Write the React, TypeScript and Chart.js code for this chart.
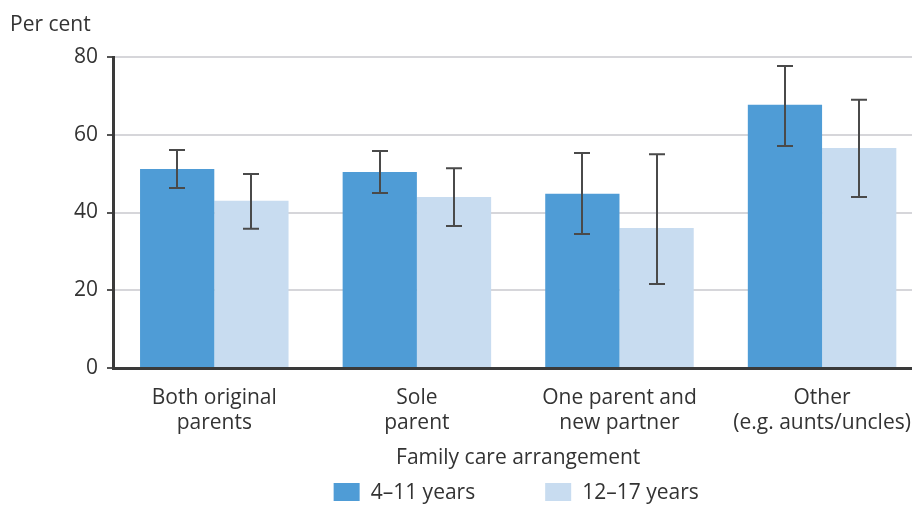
import React, { useEffect, useRef } from "react";
import { Chart, registerables } from "chart.js";

Chart.register(...registerables);

const categories: string[][] = [
  ["Both original", "parents"],
  ["Sole", "parent"],
  ["One parent and", "new partner"],
  ["Other", "(e.g. aunts/uncles)"],
];
const seriesLabels = ["4–11 years", "12–17 years"];
const young = [51.2, 50.4, 44.8, 67.7];
const youngLow = [46.3, 45.0, 34.5, 57.1];
const youngHigh = [56.1, 55.8, 55.3, 77.7];
const older = [43.0, 44.0, 36.0, 56.6];
const olderLow = [35.8, 36.5, 21.6, 44.0];
const olderHigh = [49.9, 51.4, 55.0, 69.0];
const yTicks = [0, 20, 40, 60, 80];

const FONT = "'Open Sans', 'Noto Sans', sans-serif";
const FS = 21;
const TEXT = "#333333";
const DARK = "#4f9cd6";
const LIGHT = "#c8dcf0";

const errorBarPlugin = {
  id: "errorBars",
  afterDatasetsDraw(chart: any) {
    const ctx = chart.ctx;
    const ys = chart.scales.y;
    const lows = [youngLow, olderLow];
    const highs = [youngHigh, olderHigh];
    chart.data.datasets.forEach((_ds: any, i: number) => {
      const meta = chart.getDatasetMeta(i);
      meta.data.forEach((bar: any, j: number) => {
        const x = Math.round(bar.x);
        const yl = ys.getPixelForValue(lows[i][j]);
        const yh = ys.getPixelForValue(highs[i][j]);
        ctx.save();
        ctx.strokeStyle = "#4a4a4a";
        ctx.lineWidth = 2;
        ctx.beginPath();
        ctx.moveTo(x, yl);
        ctx.lineTo(x, yh);
        ctx.moveTo(x - 8, yl);
        ctx.lineTo(x + 8, yl);
        ctx.moveTo(x - 8, yh);
        ctx.lineTo(x + 8, yh);
        ctx.stroke();
        ctx.restore();
      });
    });
  },
};

const legendPlugin = {
  id: "customLegend",
  afterDraw(chart: any) {
    const ctx = chart.ctx;
    const area = chart.chartArea;
    const cx = (area.left + area.right) / 2 - 2;
    const y = 492;
    const boxW = 26;
    const boxH = 18;
    const gap = 11;
    const itemGap = 70;
    ctx.save();
    ctx.font = `${FS}px ${FONT}`;
    const colors = chart.data.datasets.map((d: any) => d.backgroundColor);
    const widths = seriesLabels.map((t) => ctx.measureText(t).width);
    const total = widths.reduce((a, w) => a + boxW + gap + w, 0) + itemGap;
    let x = cx - total / 2;
    ctx.textBaseline = "middle";
    ctx.textAlign = "left";
    seriesLabels.forEach((t, i) => {
      ctx.fillStyle = colors[i];
      ctx.fillRect(x, y - boxH / 2, boxW, boxH);
      x += boxW + gap;
      ctx.fillStyle = TEXT;
      ctx.fillText(t, x, y + 1);
      x += widths[i] + itemGap;
    });
    ctx.restore();
  },
};

export default function App() {
  const ref = useRef<HTMLCanvasElement>(null);
  useEffect(() => {
    if (!ref.current) return;
    const chart = new Chart(ref.current, {
      type: "bar",
      data: {
        labels: categories,
        datasets: [
          {
            label: seriesLabels[0],
            data: young,
            backgroundColor: DARK,
            categoryPercentage: 0.733,
            barPercentage: 1.0,
          },
          {
            label: seriesLabels[1],
            data: older,
            backgroundColor: LIGHT,
            categoryPercentage: 0.733,
            barPercentage: 1.0,
          },
        ],
      },
      options: {
        responsive: false,
        animation: false,
        layout: { padding: { left: 10, right: 1, top: 0, bottom: 30.4 } },
        plugins: {
          legend: { display: false },
          tooltip: { enabled: false },
          title: {
            display: true,
            text: "Per cent",
            align: "start",
            color: TEXT,
            font: { family: FONT, size: FS, weight: "normal", lineHeight: 1.2 },
            padding: { top: 12.4, bottom: 19.4 },
          },
        },
        scales: {
          x: {
            grid: { display: false, drawTicks: false },
            border: { display: true, color: "#3a3a3a", width: 3 },
            ticks: {
              color: TEXT,
              font: { family: FONT, size: FS, lineHeight: 1.2 },
              padding: 17,
              maxRotation: 0,
              autoSkip: false,
            },
            title: {
              display: true,
              text: "Family care arrangement",
              color: TEXT,
              font: { family: FONT, size: FS, lineHeight: 1.2 },
              padding: { top: -7, bottom: 4 },
            },
          },
          y: {
            min: 0,
            max: 80,
            afterFit: (s: any) => {
              s.width = 103;
            },
            afterBuildTicks: (s: any) => {
              s.ticks = yTicks.map((v) => ({ value: v }));
            },
            grid: {
              color: (c: any) => (c.tick && c.tick.value === 0 ? "rgba(0,0,0,0)" : "#d6d6da"),
              lineWidth: 2,
              tickLength: 6,
              tickColor: "#555555",
            },
            border: { display: true, color: "#3a3a3a", width: 3 },
            ticks: {
              color: TEXT,
              font: { family: FONT, size: FS },
              padding: 9,
            },
          },
        },
      },
      plugins: [errorBarPlugin, legendPlugin],
    });
    return () => chart.destroy();
  }, []);
  return (
    <div
      style={{
        position: "fixed",
        left: 0,
        top: 0,
        width: 912,
        height: 505,
        overflow: "hidden",
        background: "#ffffff",
      }}
    >
      <canvas ref={ref} width={928} height={505} style={{ display: "block" }} />
    </div>
  );
}
